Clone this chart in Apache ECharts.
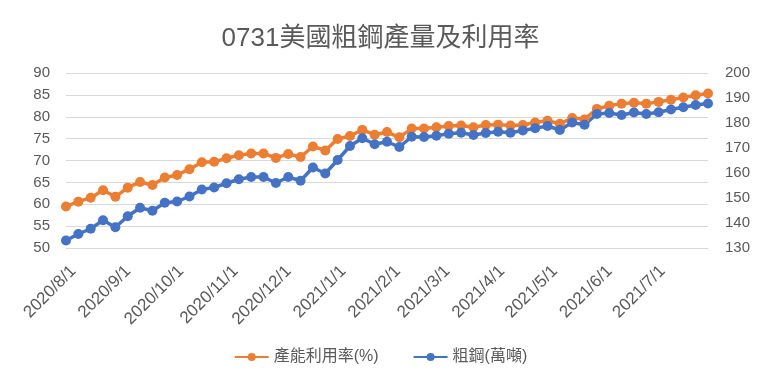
<!DOCTYPE html>
<html><head><meta charset="utf-8">
<script src="https://cdn.jsdelivr.net/npm/echarts@6/dist/echarts.min.js"></script>
<style>html,body{margin:0;padding:0;background:#fff}#c{width:761px;height:380px}</style>
</head><body><div id="c"></div>
<script>
const titleText = '0731美國粗鋼產量及利用率';
const seriesNames = ['產能利用率(%)', '粗鋼(萬噸)'];
// weekly observations starting 2020/8/1
const utilization = [59.5, 60.6, 61.5, 63.2, 61.7, 63.8, 65.1, 64.4, 66.1, 66.7,
  68.0, 69.6, 69.7, 70.5, 71.2, 71.6, 71.6, 70.6, 71.5, 70.8,
  73.2, 72.3, 74.9, 75.6, 77.0, 75.9, 76.5, 75.3, 77.3, 77.3,
  77.6, 77.9, 78.0, 77.6, 78.1, 78.2, 78.0, 78.1, 78.7, 79.1,
  78.4, 79.7, 79.4, 81.8, 82.5, 83.0, 83.2, 83.0, 83.4, 83.9,
  84.4, 84.9, 85.3];
const crudeSteel = [133.0, 135.6, 137.7, 141.1, 138.3, 142.7, 146.1, 144.9, 148.1, 148.6,
  150.6, 153.4, 154.2, 155.9, 157.5, 158.4, 158.4, 156.0, 158.4, 156.9,
  162.2, 159.8, 165.2, 170.8, 173.9, 171.5, 172.5, 170.4, 174.5, 174.4,
  174.9, 175.7, 176.1, 175.2, 176.0, 176.5, 176.1, 177.0, 177.9, 178.8,
  177.2, 180.2, 179.3, 183.6, 184.0, 183.2, 184.2, 183.6, 184.3, 185.4,
  186.3, 187.2, 187.8];
const leftAxisRange = [50, 90, 5];
const rightAxisRange = [130, 200, 10];

function fmt(d) { return d.getFullYear() + '/' + (d.getMonth() + 1) + '/' + d.getDate(); }
const days = [];
for (let i = 0; i < 365; i++) days.push(fmt(new Date(2020, 7, 1 + i)));
const weeks = utilization.map((_, i) => fmt(new Date(2020, 7, 1 + 7 * i)));

const FONT = "'Liberation Sans','Noto Sans CJK TC',sans-serif";
const chart = echarts.init(document.getElementById('c'), null, {renderer: 'canvas'});
chart.setOption({
  animation: false,
  backgroundColor: '#ffffff',
  title: {
    text: titleText, left: 'center', top: 21,
    textStyle: {fontSize: 26, fontWeight: 'normal', color: '#595959', fontFamily: FONT}
  },
  legend: {
    bottom: 10, left: 'center', itemWidth: 34, itemHeight: 10, itemGap: 34,
    textStyle: {fontSize: 16, color: '#595959', fontFamily: FONT},
    data: seriesNames
  },
  grid: {left: 66, right: 53, top: 73, bottom: 132, containLabel: false, outerBoundsMode: 'none'},
  xAxis: {
    type: 'category', data: days, boundaryGap: false,
    axisLine: {show: true, lineStyle: {color: '#D9D9D9'}},
    axisTick: {show: false},
    axisLabel: {
      rotate: 45, margin: 13, fontSize: 17, color: '#595959', fontFamily: FONT,
      verticalAlign: 'top', padding: [2, 0, 0, 0],
      interval: function (idx, val) { return val.split('/')[2] === '1'; }
    },
    splitLine: {show: false}
  },
  yAxis: [{
    type: 'value', min: leftAxisRange[0], max: leftAxisRange[1], interval: leftAxisRange[2],
    axisLine: {show: false}, axisTick: {show: false},
    axisLabel: {margin: 16, fontSize: 15, color: '#595959', fontFamily: FONT},
    splitLine: {lineStyle: {color: '#D9D9D9', width: 1}}
  }, {
    type: 'value', min: rightAxisRange[0], max: rightAxisRange[1], interval: rightAxisRange[2],
    axisLine: {show: false}, axisTick: {show: false},
    axisLabel: {margin: 17, fontSize: 15, color: '#595959', fontFamily: FONT},
    splitLine: {show: false}
  }],
  series: [{
    name: seriesNames[0], type: 'line', yAxisIndex: 0,
    data: weeks.map((w, i) => [w, utilization[i]]),
    symbol: 'circle', symbolSize: 10, showAllSymbol: true,
    lineStyle: {color: '#ED7D31', width: 3.5},
    itemStyle: {color: '#ED7D31'}
  }, {
    name: seriesNames[1], type: 'line', yAxisIndex: 1,
    data: weeks.map((w, i) => [w, crudeSteel[i]]),
    symbol: 'circle', symbolSize: 10, showAllSymbol: true,
    lineStyle: {color: '#4472C4', width: 3.5},
    itemStyle: {color: '#4472C4'}
  }]
});
</script></body></html>
